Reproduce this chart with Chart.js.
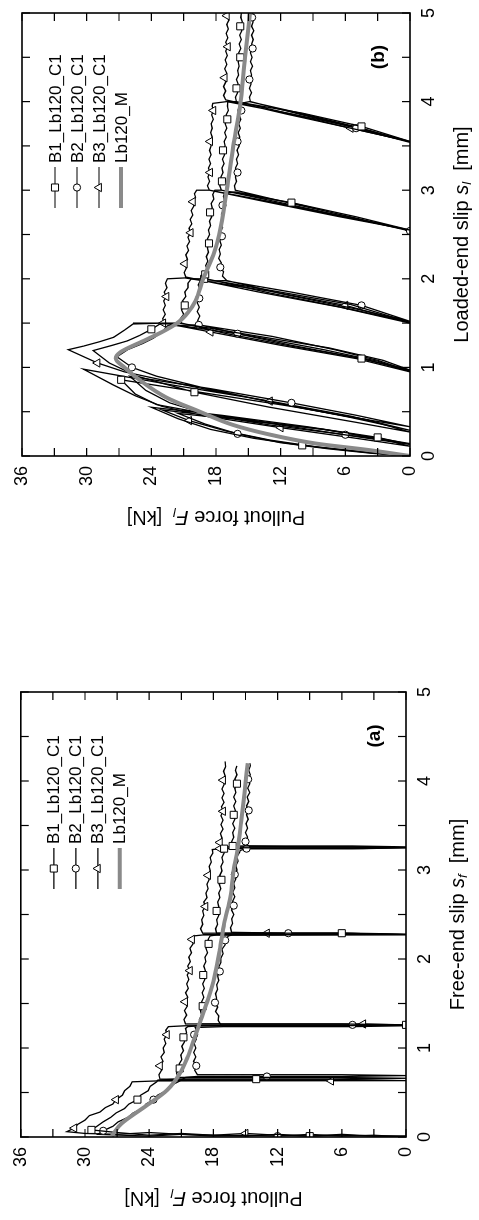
<!DOCTYPE html>
<html>
<head>
<meta charset="utf-8">
<script src="https://cdn.jsdelivr.net/npm/chart.js@4.4.1/dist/chart.umd.min.js"></script>
<style>
  body { margin: 0; background: #fff; width: 479px; height: 1220px; overflow: hidden; position: relative; }
  .panel { position: absolute; left: 0; top: 0; width: 610px; height: 479px; transform-origin: 0 0; }
  .panel canvas { display: block; }
  #panelB { transform: translate(0, 610px) rotate(-90deg); }
  #panelA { transform: translate(0, 1220px) rotate(-90deg); }
</style>
</head>
<body>
<div class="panel" id="panelB"><canvas id="chartB" width="610" height="479"></canvas></div>
<div class="panel" id="panelA"><canvas id="chartA" width="610" height="479"></canvas></div>
<script>
// axis ticks
const slipTicks = [0, 0.5, 1, 1.5, 2, 2.5, 3, 3.5, 4, 4.5, 5];
const forceTicks = [0, 3, 6, 9, 12, 15, 18, 21, 24, 27, 30, 33, 36];
const seriesNames = ['B1_Lb120_C1', 'B2_Lb120_C1', 'B3_Lb120_C1', 'Lb120_M'];

// (b) loaded-end slip [mm], pullout force [kN]
const loadedB1 = [[0,0],[0.03,3],[0.07,6],[0.12,10],[0.2,14.5],[0.3,18.5],[0.42,21.5],[0.55,24],
  [0.46,17.5],[0.33,9.5],[0.21,3],[0.13,0],
  [0.22,5],[0.35,12],[0.48,19],[0.58,23.5],[0.7,25.5],[0.86,26.8],
  [0.72,19.5],[0.56,11],[0.41,4],[0.27,0],
  [0.38,5],[0.55,13],[0.72,20],[0.9,25.3],[1.05,27.9],[1.19,29.4],
  [1.25,27.6],[1.3,26.2],[1.36,25.1],[1.43,24.0],[1.49,23.2],
  [1.5,21.4],[1.36,14.5],[1.22,7.5],[1.08,2.5],[0.97,0],
  [1.1,4.5],[1.24,11],[1.38,17],[1.5,21.2],
  [1.55,21.3],[1.6,21.0],[1.65,21.2],[1.7,20.9],[1.75,21.1],[1.8,20.8],[1.85,20.9],[1.9,20.6],[1.95,20.6],[2.0,20.3],
  [2.0,19.1],[1.86,12.5],[1.71,5.5],[1.51,0],
  [1.67,6],[1.84,13],[2.0,18.9],
  [2.05,19.0],[2.1,18.8],[2.15,18.95],[2.2,18.75],[2.25,18.9],[2.3,18.7],[2.35,18.8],[2.4,18.65],[2.45,18.8],[2.5,18.6],
  [2.55,18.7],[2.6,18.5],[2.65,18.6],[2.7,18.4],[2.75,18.55],[2.8,18.35],[2.85,18.45],[2.9,18.2],[2.95,18.3],[3.0,18.1],
  [3.0,17.5],[2.86,11],[2.7,5],[2.55,0],
  [2.7,6],[2.86,12],[3.0,17.5],
  [3.05,17.65],[3.1,17.45],[3.15,17.55],[3.2,17.35],[3.25,17.45],[3.3,17.25],[3.35,17.4],[3.4,17.2],[3.45,17.35],[3.5,17.15],
  [3.55,17.25],[3.6,17.05],[3.65,17.2],[3.7,17.0],[3.75,17.15],[3.8,16.95],[3.85,17.05],[3.9,16.85],[3.95,16.95],[4.0,16.9],
  [4.0,16.2],[3.87,10],[3.72,4.5],[3.55,0],
  [3.7,5.5],[3.86,11],[4.0,16.1],
  [4.05,16.2],[4.1,16.0],[4.15,16.1],[4.2,15.95],[4.25,16.1],[4.3,15.9],[4.35,16.0],[4.4,15.85],[4.45,15.95],[4.5,15.75],
  [4.55,15.9],[4.6,15.7],[4.65,15.85],[4.7,15.65],[4.75,15.8],[4.8,15.6],[4.85,15.75],[4.9,15.55],[4.95,15.7],[5.05,15.6]];

const loadedB2 = [[0,0],[0.03,3.5],[0.08,7.5],[0.15,12],[0.25,16],[0.36,19],[0.48,21.5],
  [0.4,15],[0.3,8],[0.2,3],[0.14,0],
  [0.24,6],[0.35,13],[0.46,18.5],[0.6,22.3],[0.74,24.5],[0.9,26],
  [0.76,18.5],[0.6,11],[0.46,5],[0.33,0],
  [0.44,5.5],[0.6,12.5],[0.75,18.5],[0.9,23.5],[1.0,25.8],[1.12,27.2],
  [1.2,26.2],[1.27,24.8],[1.33,23.8],[1.4,23.0],[1.47,22.5],
  [1.48,19.6],[1.35,12.8],[1.2,7],[1.08,3],[0.96,0],
  [1.1,4.5],[1.25,11],[1.38,16],[1.48,19.5],
  [1.53,19.7],[1.58,19.5],[1.63,19.75],[1.68,19.55],[1.73,19.75],[1.78,19.55],[1.83,19.7],[1.88,19.5],[1.93,19.65],[1.97,19.5],
  [1.98,17.2],[1.85,11],[1.7,4.5],[1.52,0],
  [1.66,5],[1.82,11.5],[1.98,17.0],
  [2.03,17.4],[2.08,17.3],[2.13,17.6],[2.18,17.5],[2.23,17.75],[2.28,17.6],[2.33,17.7],[2.38,17.5],[2.43,17.65],[2.48,17.45],
  [2.53,17.6],[2.58,17.4],[2.63,17.5],[2.68,17.35],[2.73,17.5],[2.78,17.3],[2.83,17.4],[2.88,17.2],[2.93,17.3],[2.97,17.2],
  [2.98,16.2],[2.83,10],[2.68,5],[2.54,0],
  [2.7,5.5],[2.85,11],[3.0,16.2],
  [3.05,16.3],[3.1,16.1],[3.15,16.2],[3.2,16.0],[3.25,16.2],[3.3,16.0],[3.35,16.1],[3.4,15.9],[3.45,16.05],[3.5,15.85],
  [3.55,16.0],[3.6,15.8],[3.65,15.95],[3.7,15.75],[3.75,15.9],[3.8,15.7],[3.85,15.85],[3.9,15.65],[3.95,15.8],[3.98,15.7],
  [4.0,14.9],[3.85,9.5],[3.7,4.5],[3.54,0],
  [3.7,5],[3.85,10],[4.0,14.8],
  [4.05,14.9],[4.1,14.7],[4.15,14.9],[4.2,14.75],[4.25,14.9],[4.3,14.7],[4.35,14.8],[4.4,14.6],[4.45,14.8],[4.5,14.65],
  [4.55,14.8],[4.6,14.6],[4.65,14.7],[4.7,14.55],[4.75,14.7],[4.8,14.5],[4.85,14.7],[4.9,14.55],[4.95,14.65],[5.05,14.5]];

const loadedB3 = [[0,0],[0.04,4],[0.1,8.5],[0.18,13],[0.28,17],[0.4,20.5],[0.52,23],
  [0.42,16],[0.3,8],[0.19,2.5],[0.11,0],
  [0.2,5],[0.32,12],[0.45,19],[0.56,23],[0.68,25.5],[0.8,27.5],[0.98,30.3],
  [0.8,22],[0.62,13],[0.45,5.5],[0.29,0],
  [0.44,5.7],[0.6,12.5],[0.78,20],[0.95,26.5],[1.05,29],[1.2,31.7],
  [1.24,30.3],[1.29,28.8],[1.34,27.5],[1.42,26.5],[1.49,25.7],
  [1.5,22.9],[1.36,15],[1.2,8],[1.07,3],[0.95,0],
  [1.1,5],[1.25,12],[1.4,18.5],[1.5,22.8],
  [1.55,22.95],[1.6,22.7],[1.65,22.9],[1.7,22.7],[1.75,22.85],[1.8,22.6],[1.85,22.8],[1.9,22.55],[1.95,22.7],[2.0,22.5],
  [2.01,20.9],[1.86,13],[1.7,6],[1.5,0],
  [1.68,6.5],[1.85,14],[2.02,20.8],
  [2.07,20.95],[2.12,20.75],[2.17,20.9],[2.22,20.65],[2.27,20.8],[2.32,20.55],[2.37,20.7],[2.42,20.45],[2.47,20.6],[2.52,20.35],
  [2.57,20.5],[2.62,20.25],[2.67,20.4],[2.72,20.15],[2.77,20.3],[2.82,20.05],[2.87,20.15],[2.92,19.9],[2.96,20.0],[3.0,19.8],
  [3.0,18.6],[2.85,12],[2.7,6],[2.55,0],
  [2.7,6.5],[2.86,13],[3.0,18.6],
  [3.05,18.8],[3.1,18.6],[3.15,18.75],[3.2,18.55],[3.25,18.7],[3.3,18.5],[3.35,18.65],[3.4,18.45],[3.45,18.6],[3.5,18.45],
  [3.55,18.55],[3.6,18.35],[3.65,18.5],[3.7,18.35],[3.75,18.45],[3.8,18.25],[3.85,18.4],[3.9,18.25],[3.95,18.35],[3.98,18.3],
  [4.0,17.0],[3.86,11],[3.71,5],[3.55,0],
  [3.7,5.5],[3.86,11.5],[4.02,17.1],
  [4.07,17.3],[4.12,17.1],[4.17,17.3],[4.22,17.1],[4.27,17.2],[4.32,17.0],[4.37,17.2],[4.42,17.0],[4.47,17.15],[4.52,16.95],
  [4.57,17.1],[4.62,16.9],[4.67,17.1],[4.72,16.9],[4.77,17.05],[4.82,16.85],[4.87,17.0],[4.92,16.8],[4.97,17.0],[5.05,16.9]];

const loadedMean = [[0,0],[0.07,4],[0.14,8.7],[0.25,13.3],[0.35,16.4],[0.5,19.5],[0.66,22.6],[0.85,25],[1.0,26.5],
  [1.1,27.3],[1.17,26.9],[1.3,24.7],[1.4,23.0],[1.5,21.6],[1.62,20.6],[1.75,19.9],[2.0,19.2],[2.27,18.25],
  [2.5,17.7],[3.0,17.0],[3.5,16.4],[3.92,15.8],[4.5,15.3],[5.05,14.8]];

// (a) free-end slip [mm], pullout force [kN]
const freeB1 = [[0,0],[0.01,3],[0.02,6],[0.01,9],[0.03,12],[0.01,15],[0.02,18],[0.04,21],[0.02,24],[0.05,27],[0.08,29.4],
  [0.12,28.9],[0.17,28.3],[0.22,27.6],[0.27,27.1],[0.32,26.3],[0.37,25.9],[0.42,25.1],[0.47,24.8],[0.52,24.1],[0.57,23.9],[0.62,23.3],[0.64,23.2],
  [0.65,21.4],[0.65,14],[0.65,7],[0.66,0],[0.67,7],[0.67,14],[0.67,21.3],
  [0.72,21.45],[0.77,21.15],[0.82,21.2],[0.87,20.95],[0.92,21.05],[0.97,20.8],[1.02,20.95],[1.07,20.7],[1.12,20.8],[1.17,20.5],[1.22,20.6],[1.24,20.4],
  [1.25,19.3],[1.25,13],[1.25,6],[1.26,0],[1.27,6],[1.27,13],[1.27,19.2],
  [1.32,19.3],[1.37,19.1],[1.42,19.2],[1.47,19.0],[1.52,19.1],[1.57,18.9],[1.62,19.05],[1.67,18.85],[1.72,19.0],[1.77,18.8],
  [1.82,18.95],[1.87,18.75],[1.92,18.9],[1.97,18.7],[2.02,18.8],[2.07,18.55],[2.12,18.7],[2.17,18.45],[2.22,18.5],[2.26,18.3],
  [2.27,17.7],[2.27,12],[2.27,6],[2.28,0],[2.29,6],[2.29,12],[2.29,17.7],
  [2.34,17.8],[2.39,17.6],[2.44,17.7],[2.49,17.5],[2.54,17.7],[2.59,17.5],[2.64,17.6],[2.69,17.4],[2.74,17.5],[2.79,17.3],
  [2.84,17.45],[2.89,17.25],[2.94,17.4],[2.99,17.2],[3.04,17.3],[3.09,17.1],[3.14,17.2],[3.19,17.0],[3.24,17.0],
  [3.25,16.3],[3.25,11],[3.25,5],[3.26,0],[3.27,5],[3.27,11],[3.27,16.2],
  [3.32,16.3],[3.37,16.1],[3.42,16.2],[3.47,16.0],[3.52,16.2],[3.57,16.0],[3.62,16.1],[3.67,15.95],[3.72,16.1],[3.77,15.9],
  [3.82,16.1],[3.87,15.9],[3.92,16.0],[3.97,15.8],[4.02,16.0],[4.07,15.8],[4.12,15.95],[4.17,15.8]];

const freeB2 = [[0,0],[0.02,3],[0.01,6],[0.03,9],[0.01,12],[0.02,15],[0.01,18],[0.03,21],[0.01,24],[0.02,26.5],[0.03,28.8],
  [0.07,28.3],[0.12,27.4],[0.17,26.9],[0.22,26.0],[0.27,25.5],[0.32,24.6],[0.37,24.3],[0.42,23.6],[0.47,23.2],[0.52,22.4],[0.57,22.1],[0.62,21.3],[0.67,20.6],
  [0.68,19.6],[0.68,13],[0.68,6],[0.69,0],[0.7,6],[0.7,13],[0.7,19.5],
  [0.75,19.75],[0.8,19.6],[0.85,19.85],[0.9,19.65],[0.95,19.85],[1.0,19.65],[1.05,19.8],[1.1,19.6],[1.15,19.8],[1.2,19.6],[1.23,19.7],
  [1.24,17.1],[1.24,12],[1.24,5],[1.25,0],[1.26,5],[1.26,12],[1.26,17.3],
  [1.31,17.55],[1.36,17.5],[1.41,17.8],[1.46,17.6],[1.51,17.85],[1.56,17.7],[1.61,17.8],[1.66,17.6],[1.71,17.7],[1.76,17.5],
  [1.81,17.6],[1.86,17.4],[1.91,17.5],[1.96,17.3],[2.01,17.3],[2.06,17.1],[2.11,17.2],[2.16,16.9],[2.21,16.9],[2.26,16.6],
  [2.27,16.2],[2.28,11],[2.28,5],[2.28,0],[2.29,5],[2.29,11],[2.3,16.3],
  [2.35,16.4],[2.4,16.2],[2.45,16.3],[2.5,16.1],[2.55,16.3],[2.6,16.1],[2.65,16.2],[2.7,16.0],[2.75,16.2],[2.8,16.0],
  [2.85,16.1],[2.9,15.9],[2.95,16.0],[3.0,15.8],[3.05,15.9],[3.1,15.7],[3.15,15.8],[3.2,15.55],[3.22,15.5],
  [3.24,14.9],[3.24,10],[3.24,4],[3.25,0],[3.26,4],[3.26,10],[3.27,14.9],
  [3.32,15.0],[3.37,14.8],[3.42,15.0],[3.47,14.8],[3.52,14.95],[3.57,14.75],[3.62,14.9],[3.67,14.7],[3.72,14.9],[3.77,14.7],
  [3.82,14.85],[3.87,14.6],[3.92,14.8],[3.97,14.6],[4.02,14.75],[4.07,14.55],[4.12,14.7],[4.17,14.55],[4.2,14.6]];

const freeB3 = [[0,0],[0.01,3],[0.03,6],[0.01,9],[0.02,12],[0.04,15],[0.02,18],[0.03,21],[0.05,24],[0.03,27],[0.04,30],[0.06,31.7],
  [0.1,31.0],[0.14,30.7],[0.19,30.0],[0.24,29.6],[0.28,28.6],[0.33,28.1],[0.37,27.4],[0.42,27.1],[0.47,26.5],[0.52,26.3],[0.57,25.8],[0.62,25.6],
  [0.63,23.3],[0.63,15],[0.63,7],[0.64,0],[0.65,7],[0.65,15],[0.65,23.0],
  [0.7,23.1],[0.75,22.85],[0.8,23.0],[0.85,22.7],[0.9,22.9],[0.95,22.6],[1.0,22.7],[1.05,22.45],[1.1,22.6],[1.15,22.35],[1.2,22.45],[1.24,22.2],
  [1.25,20.6],[1.25,13],[1.25,4],[1.26,0],[1.27,4],[1.27,13],[1.27,20.6],
  [1.32,20.75],[1.37,20.5],[1.42,20.7],[1.47,20.45],[1.52,20.65],[1.57,20.4],[1.62,20.6],[1.67,20.35],[1.72,20.5],[1.77,20.3],
  [1.82,20.45],[1.87,20.2],[1.92,20.4],[1.97,20.15],[2.02,20.3],[2.07,20.05],[2.12,20.2],[2.17,19.9],[2.22,20.0],[2.26,19.8],
  [2.27,19.0],[2.27,13],[2.27,6],[2.28,0],[2.29,6],[2.29,13],[2.29,19.0],
  [2.34,19.2],[2.39,19.0],[2.44,19.1],[2.49,18.9],[2.54,19.0],[2.59,18.75],[2.64,18.9],[2.69,18.6],[2.74,18.7],[2.79,18.5],
  [2.84,18.6],[2.89,18.4],[2.94,18.5],[2.99,18.3],[3.04,18.4],[3.09,18.2],[3.14,18.3],[3.19,18.05],[3.23,18.1],
  [3.24,17.4],[3.24,12],[3.24,5],[3.25,0],[3.26,5],[3.26,12],[3.26,17.3],
  [3.31,17.4],[3.36,17.2],[3.41,17.35],[3.46,17.1],[3.51,17.3],[3.56,17.1],[3.61,17.3],[3.66,17.1],[3.71,17.25],[3.76,17.0],
  [3.81,17.2],[3.86,17.0],[3.91,17.2],[3.96,17.0],[4.01,17.1],[4.06,16.9],[4.11,17.05],[4.16,16.85],[4.22,16.9]];

const freeMean = [[0.01,27.5],[0.15,26.6],[0.34,24.4],[0.53,22.3],[0.7,21.2],[0.9,20.4],[1.1,19.8],[1.31,19.2],
  [1.55,18.5],[1.8,17.9],[2.1,17.4],[2.4,17.0],[2.7,16.4],[3.0,16.1],[3.26,15.7],[3.55,15.4],[3.86,15.1],[4.2,14.8]];

const FONT = '"Liberation Sans", Arial, sans-serif';
const GRAY = '#8a8a8a';
const TICK_LEN = 8;
const MARK_STEP = 7;
const markers = [
  { style: 'rect', radius: 5 },
  { style: 'circle', radius: 3.6 },
  { style: 'triangle', radius: 4.8 }
];

const toXY = arr => arr.map(([x, y]) => ({ x, y }));

function drawMarker(ctx, style, r, x, y) {
  ctx.beginPath();
  if (style === 'rect') {
    const h = r * Math.SQRT1_2;
    ctx.rect(x - h, y - h, 2 * h, 2 * h);
  } else if (style === 'circle') {
    ctx.arc(x, y, r, 0, Math.PI * 2);
  } else {
    let a = 0;
    ctx.moveTo(x + Math.sin(a) * r, y - Math.cos(a) * r);
    a += Math.PI * 2 / 3;
    ctx.lineTo(x + Math.sin(a) * r, y - Math.cos(a) * r);
    a += Math.PI * 2 / 3;
    ctx.lineTo(x + Math.sin(a) * r, y - Math.cos(a) * r);
    ctx.closePath();
  }
  ctx.fillStyle = '#fff';
  ctx.fill();
  ctx.strokeStyle = '#000';
  ctx.lineWidth = 1;
  ctx.stroke();
}

// text made of parts with different fonts, centred on (cx, cy)
function drawRich(ctx, parts, cx, cy) {
  let w = 0;
  parts.forEach(p => { ctx.font = p.font; w += ctx.measureText(p.t).width; });
  let x = cx - w / 2;
  ctx.textAlign = 'left';
  ctx.textBaseline = 'middle';
  ctx.fillStyle = '#000';
  parts.forEach(p => {
    ctx.font = p.font;
    ctx.fillText(p.t, x, cy + (p.dy || 0));
    x += ctx.measureText(p.t).width;
  });
}

const framePlugin = {
  id: 'frame',
  afterDraw(chart, args, opts) {
    const { ctx, chartArea: a, scales: { x, y } } = chart;
    ctx.save();
    // inward ticks on all four sides
    ctx.strokeStyle = '#000';
    ctx.lineWidth = 1.2;
    ctx.beginPath();
    slipTicks.forEach(v => {
      const px = x.getPixelForValue(v);
      ctx.moveTo(px, a.bottom); ctx.lineTo(px, a.bottom - TICK_LEN);
      ctx.moveTo(px, a.top); ctx.lineTo(px, a.top + TICK_LEN);
    });
    forceTicks.forEach(v => {
      const py = y.getPixelForValue(v);
      ctx.moveTo(a.left, py); ctx.lineTo(a.left + TICK_LEN, py);
      ctx.moveTo(a.right, py); ctx.lineTo(a.right - TICK_LEN, py);
    });
    ctx.stroke();
    ctx.lineWidth = 1.6;
    ctx.strokeRect(a.left, a.top, a.right - a.left, a.bottom - a.top);

    // legend inside the plot
    seriesNames.forEach((name, i) => {
      const ly = a.top + 33 + 22 * i;
      const x0 = a.left + 248, x1 = a.left + 289;
      ctx.beginPath();
      ctx.moveTo(x0, ly); ctx.lineTo(x1, ly);
      if (i < 3) {
        ctx.strokeStyle = '#000'; ctx.lineWidth = 1.2; ctx.stroke();
        drawMarker(ctx, markers[i].style, markers[i].radius, (x0 + x1) / 2, ly);
      } else {
        ctx.strokeStyle = GRAY; ctx.lineWidth = 4; ctx.stroke();
      }
      ctx.fillStyle = '#000';
      ctx.font = '17px ' + FONT;
      ctx.textAlign = 'left';
      ctx.textBaseline = 'middle';
      ctx.fillText(name, a.left + 293, ly + 1);
    });

    // panel tag
    ctx.font = 'bold 19px ' + FONT;
    ctx.textAlign = 'center';
    ctx.textBaseline = 'middle';
    ctx.fillText(opts.tag, a.right - 44, a.bottom - 31);

    // axis titles
    drawRich(ctx, [
      { t: opts.slipTitle, font: '20px ' + FONT },
      { t: 's', font: 'italic 20px ' + FONT },
      { t: opts.slipSub, font: 'italic 13px ' + FONT, dy: 5 },
      { t: '  [mm]', font: '20px ' + FONT }
    ], (a.left + a.right) / 2, a.bottom + 52);

    ctx.translate(a.left - 61, (a.top + a.bottom) / 2);
    ctx.rotate(-Math.PI / 2);
    drawRich(ctx, [
      { t: 'Pullout force ', font: '20px ' + FONT },
      { t: 'F', font: 'italic 20px ' + FONT },
      { t: 'l', font: 'italic 13px ' + FONT, dy: 5 },
      { t: '  [kN]', font: '20px ' + FONT }
    ], 0, 0);
    ctx.restore();
  }
};

function specimenDataset(arr, i) {
  return {
    data: toXY(arr),
    showLine: true,
    borderColor: '#000',
    borderWidth: 1.3,
    tension: 0,
    pointStyle: markers[i].style,
    pointRadius: c => (c.dataIndex % MARK_STEP === 3 + i ? markers[i].radius : 0),
    pointHoverRadius: 0,
    pointBackgroundColor: '#fff',
    pointBorderColor: '#000',
    pointBorderWidth: 1
  };
}

function buildPanel(canvasId, series, mean, box, texts) {
  const ctx = document.getElementById(canvasId).getContext('2d');
  return new Chart(ctx, {
    type: 'scatter',
    data: {
      datasets: [
        { data: toXY(mean), showLine: true, borderColor: GRAY, borderWidth: 4, pointRadius: 0,
          cubicInterpolationMode: 'monotone' },
        specimenDataset(series[0], 0),
        specimenDataset(series[1], 1),
        specimenDataset(series[2], 2)
      ]
    },
    options: {
      responsive: false,
      animation: false,
      layout: { padding: { left: 0, right: box.right, top: box.top, bottom: 0 } },
      plugins: {
        legend: { display: false },
        tooltip: { enabled: false },
        frame: texts
      },
      scales: {
        x: {
          type: 'linear', min: 0, max: 5,
          grid: { display: false, drawTicks: false },
          border: { display: false },
          ticks: { stepSize: 1, padding: 8, color: '#000', font: { family: FONT, size: 18 } },
          afterFit: s => { s.height = box.xHeight; }
        },
        y: {
          type: 'linear', min: 0, max: 36,
          grid: { display: false, drawTicks: false },
          border: { display: false },
          ticks: { stepSize: 6, padding: 10, color: '#000', font: { family: FONT, size: 18 } },
          afterFit: s => { s.width = box.yWidth; }
        }
      }
    },
    plugins: [framePlugin]
  });
}

buildPanel('chartB', [loadedB1, loadedB2, loadedB3], loadedMean,
  { right: 10, top: 22, xHeight: 69, yWidth: 154 },
  { tag: '(b)', slipTitle: 'Loaded-end slip ', slipSub: 'l' });

buildPanel('chartA', [freeB1, freeB2, freeB3], freeMean,
  { right: 82, top: 19, xHeight: 73, yWidth: 83 },
  { tag: '(a)', slipTitle: 'Free-end slip ', slipSub: 'f' });
</script>
</body>
</html>
